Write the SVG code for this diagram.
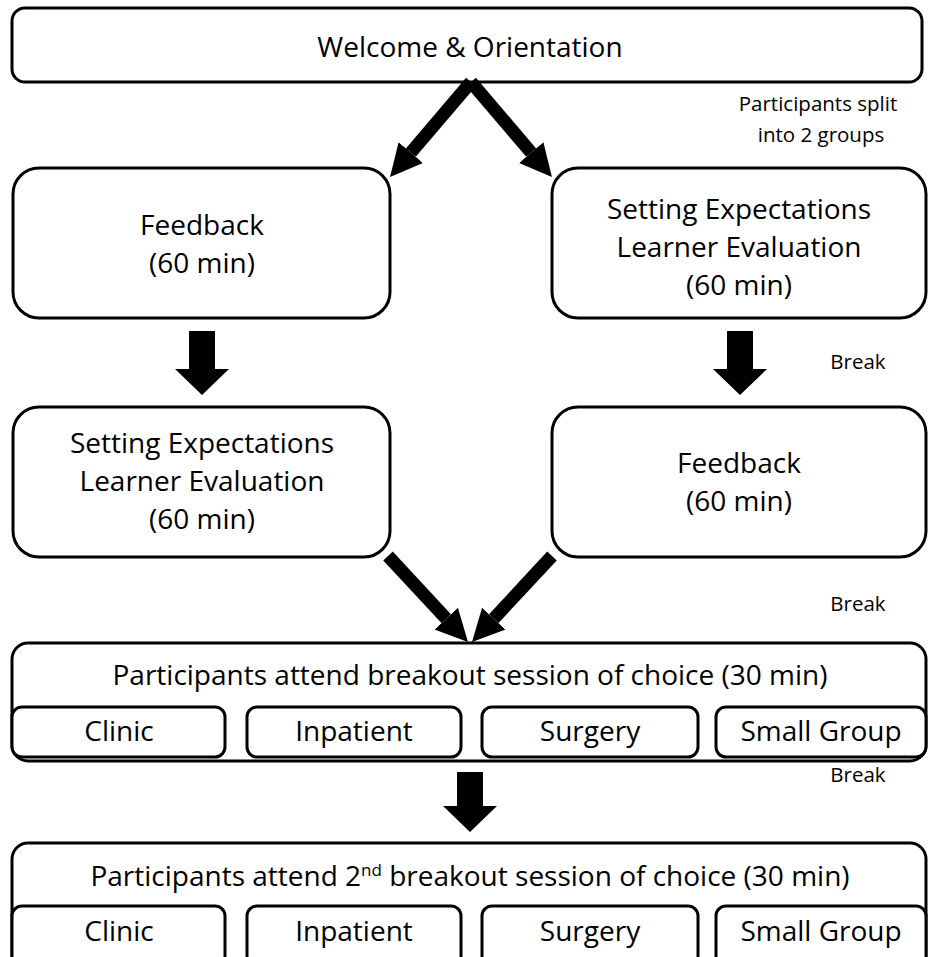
<svg xmlns="http://www.w3.org/2000/svg" width="928" height="957" viewBox="0 0 928 957">
<style>
.box{fill:#fff;stroke:#000;stroke-width:3}
.t{font-family:"Open Sans","Liberation Sans",sans-serif;font-size:28px;fill:#000;text-anchor:middle}
.s{font-family:"Open Sans","Liberation Sans",sans-serif;font-size:20.5px;fill:#000;text-anchor:middle}
.shaft{stroke:#000;stroke-width:13;fill:none}
.blk{fill:#000}
</style>
<defs>
<marker id="ah" markerUnits="userSpaceOnUse" markerWidth="34" markerHeight="34" viewBox="0 -17 34 34" refX="0" refY="0" orient="auto">
<path d="M0,-16 L32,0 L0,16 z" fill="#000"/>
</marker>
</defs>
<rect width="928" height="957" fill="#fff"/>

<g id="welcome">
<rect class="box" x="12" y="8" width="910" height="74" rx="13"/>
<text class="t" x="470" y="57">Welcome &amp; Orientation</text>
</g>

<g id="feedback1">
<rect class="box" x="13" y="168" width="377" height="150" rx="26"/>
<text class="t" x="202" y="235">Feedback</text>
<text class="t" x="202" y="273">(60 min)</text>
</g>

<g id="setting1">
<rect class="box" x="552" y="168" width="374" height="150" rx="26"/>
<text class="t" x="739" y="219">Setting Expectations</text>
<text class="t" x="739" y="257">Learner Evaluation</text>
<text class="t" x="739" y="295">(60 min)</text>
</g>

<g id="setting2">
<rect class="box" x="13" y="407" width="377" height="150" rx="26"/>
<text class="t" x="202" y="453">Setting Expectations</text>
<text class="t" x="202" y="491">Learner Evaluation</text>
<text class="t" x="202" y="529">(60 min)</text>
</g>

<g id="feedback2">
<rect class="box" x="552" y="407" width="374" height="150" rx="26"/>
<text class="t" x="739" y="473">Feedback</text>
<text class="t" x="739" y="511">(60 min)</text>
</g>

<g id="breakout1">
<rect class="box" x="12" y="643" width="914" height="118" rx="16"/>
<text class="t" x="470" y="685">Participants attend breakout session of choice (30 min)</text>
<rect class="box" x="12" y="707" width="213" height="50" rx="10"/>
<rect class="box" x="247" y="707" width="214" height="50" rx="10"/>
<rect class="box" x="482" y="707" width="216" height="50" rx="10"/>
<rect class="box" x="716" y="707" width="210" height="50" rx="10"/>
<text class="t" x="119" y="741">Clinic</text>
<text class="t" x="354" y="741">Inpatient</text>
<text class="t" x="590" y="741">Surgery</text>
<text class="t" x="821" y="741">Small Group</text>
</g>

<g id="breakout2">
<rect class="box" x="12" y="843" width="914" height="130" rx="16"/>
<text class="t" x="470" y="886">Participants attend 2<tspan font-size="17" dy="-10">nd</tspan><tspan dy="10"> breakout session of choice (30 min)</tspan></text>
<rect class="box" x="12" y="906" width="213" height="60" rx="10"/>
<rect class="box" x="247" y="906" width="214" height="60" rx="10"/>
<rect class="box" x="482" y="906" width="216" height="60" rx="10"/>
<rect class="box" x="716" y="906" width="210" height="60" rx="10"/>
<text class="t" x="119" y="941">Clinic</text>
<text class="t" x="354" y="941">Inpatient</text>
<text class="t" x="590" y="941">Surgery</text>
<text class="t" x="821" y="941">Small Group</text>
</g>

<g id="labels">
<text class="s" x="818" y="111">Participants split</text>
<text class="s" x="821" y="142">into 2 groups</text>
<text class="s" x="858" y="369">Break</text>
<text class="s" x="858" y="611">Break</text>
<text class="s" x="858" y="782">Break</text>
</g>

<g id="connectors">
<line class="shaft" x1="471" y1="82" x2="410.8" y2="152.6" marker-end="url(#ah)"/>
<line class="shaft" x1="471" y1="82" x2="531.2" y2="152.6" marker-end="url(#ah)"/>
<polygon class="blk" points="189,331 215,331 215,369 229,369 202,395 175,369 189,369"/>
<polygon class="blk" points="727,331 753,331 753,369 767,369 740,395 713,369 727,369"/>
<line class="shaft" x1="388" y1="556" x2="446.2" y2="618.6" marker-end="url(#ah)"/>
<line class="shaft" x1="552" y1="556" x2="493.8" y2="618.6" marker-end="url(#ah)"/>
<polygon class="blk" points="457,772 483,772 483,806 497,806 470,832 443,806 457,806"/>
</g>
</svg>
